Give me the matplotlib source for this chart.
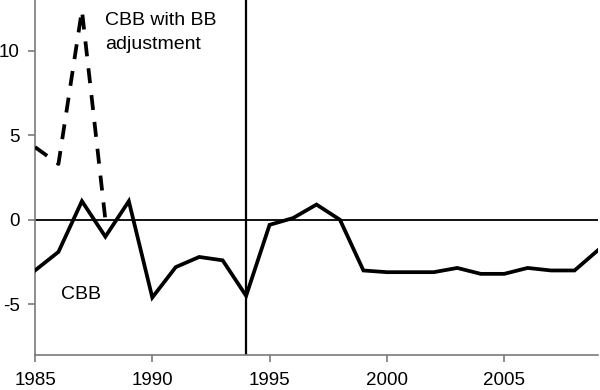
import matplotlib
matplotlib.use("Agg")
import matplotlib.pyplot as plt

plt.rcParams['font.family'] = ['Liberation Sans', 'DejaVu Sans']

years = list(range(1985, 2010))
cbb = [-3.0, -1.9, 1.1, -1.0, 1.1, -4.6, -2.8, -2.2, -2.4, -4.5,
       -0.3, 0.1, 0.9, 0.0, -3.0, -3.1, -3.1, -3.1, -2.85, -3.2,
       -3.2, -2.85, -3.0, -3.0, -1.8]

adj_years = [1985, 1986, 1987, 1988]
cbb_adj = [4.3, 3.3, 12.4, 0.0]

xticks = [1985, 1990, 1995, 2000, 2005]
yticks = [-5, 0, 5, 10]
ytick_labels = ['-5', '0', '5', '10']

fig = plt.figure(figsize=(6, 3.9), dpi=100)
ax = fig.add_axes([35 / 600, 1 - 355 / 390, 563 / 600, 355 / 390])

ax.axhline(0, color='black', lw=1.3, zorder=1)
ax.axvline(1994, color='black', lw=1.6, zorder=1)

ax.plot(years, cbb, color='black', lw=2.7, solid_joinstyle='miter', zorder=3)
ax.plot(adj_years, cbb_adj, color='black', lw=2.7, ls=(0, (4, 3.2)), zorder=3)

# labels for the two series
ax.text(1988.0, 11.5, 'CBB with BB', fontsize=14, va='baseline')
ax.text(1988.0, 10.1, 'adjustment', fontsize=14, va='baseline')
ax.text(1986.1, -4.67, 'CBB', fontsize=14, va='baseline')

ax.set_xlim(1985, 2009)
ax.set_ylim(-8, 13)
ax.set_xticks(xticks)
ax.set_yticks(yticks)
ax.set_yticklabels(ytick_labels)

for s in ['top', 'right']:
    ax.spines[s].set_visible(False)
for s in ['left', 'bottom']:
    ax.spines[s].set_color('#7a7a7a')
    ax.spines[s].set_linewidth(1.2)

ax.tick_params(axis='both', colors='#7a7a7a', labelcolor='black',
               labelsize=13.5, length=5, width=1.2)
ax.tick_params(axis='x', pad=7)
ax.tick_params(axis='y', pad=6)

fig.savefig('out.png', dpi=100)
